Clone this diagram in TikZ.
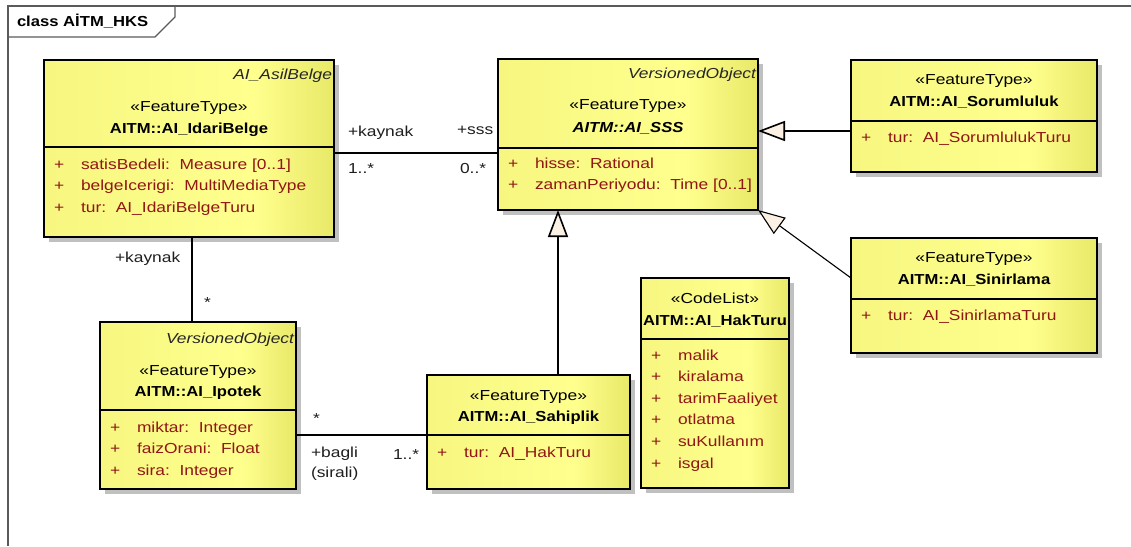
\documentclass[tikz,border=0pt]{standalone}
\usepackage{fontspec}
\setmainfont[FakeStretch=1.2,
  BoldFeatures={FakeStretch=1.147},
  BoldItalicFeatures={FakeStretch=1.147}]{Liberation Sans}
\usetikzlibrary{arrows.meta,backgrounds}

\definecolor{ylL}{RGB}{246,246,128}
\definecolor{ylM}{RGB}{255,255,142}
\definecolor{ylR}{RGB}{232,232,104}
\definecolor{shadowgray}{RGB}{192,192,192}
\definecolor{attrred}{RGB}{145,22,22}
\definecolor{tipfill}{RGB}{250,240,228}
\definecolor{framegray}{RGB}{90,90,90}
\definecolor{labelink}{RGB}{30,30,30}

% class body: pale at the left, brightest right of centre, darker at the right edge
\pgfdeclarehorizontalshading{umlyellow}{100bp}{color(0bp)=(ylL); color(25bp)=(ylL); color(61bp)=(ylM); color(75bp)=(ylR); color(100bp)=(ylR)}

\tikzset{
  every node/.style={font=\fontsize{14.5pt}{16pt}\selectfont, inner sep=0pt, outer sep=0pt},
  umlclass/.style={rectangle, draw=black, line width=2pt, shading=umlyellow},
  divider/.style={draw=black, line width=2pt},
  stereo/.style={anchor=base, text=black},
  cname/.style={anchor=base, text=black, font=\fontsize{14.5pt}{16pt}\selectfont\bfseries},
  cnameit/.style={anchor=base, text=black, font=\fontsize{14.5pt}{16pt}\selectfont\bfseries\itshape},
  parent/.style={anchor=base east, text=black!85, font=\fontsize{14.5pt}{16pt}\selectfont\itshape},
  vis/.style={anchor=base west, text=attrred},
  attr/.style={anchor=base west, text=attrred},
  rolelabel/.style={anchor=base west, text=labelink},
  assoc/.style={draw=black, line width=1.6pt},
  gen/.style={draw=black, line width=1.6pt, -{Triangle[length=27pt,width=20pt,fill=tipfill]}},
  frameline/.style={draw=framegray, line width=1.2pt},
}

% name, x1, y1, x2, y2, divider y
\newcommand\classbox[6]{%
  \node[umlclass, minimum width={#4-#2}, minimum height={#5-#3}] (#1) at ({(#2+#4)/2},{(#3+#5)/2}) {};
  \draw[divider] (#1.west |- 0,#6) -- (#1.east |- 0,#6);
}
% prefix, x of the visibility mark, first baseline, list of members
\newcommand\memberlist[4]{%
  \foreach \t [count=\i from 0] in {#4} {
    \node[vis] (#1-p\i) at (#2, {#3+\i*21.6}) {+};
    \node[attr] (#1-a\i) at ({#2+27}, {#3+\i*21.6}) {\t};
  }
}

\begin{document}
\begin{tikzpicture}[x=1pt,y=-1pt]
\useasboundingbox (0,0) rectangle (1131,546);

% diagram frame with its name tab
\draw[frameline] (8,546) -- (8,6) -- (1131,6);
\draw[frameline] (8,37) -- (155,37) -- (175,17) -- (175,6);
\node[anchor=base west, font=\fontsize{14.5pt}{16pt}\selectfont\bfseries] (title) at (17,27) {class AİTM\_HKS};

% AI_IdariBelge
\classbox{idari}{44}{60}{334}{237}{147}
\node[parent] (idari-par) at (332,79) {AI\_AsilBelge};
\node[stereo] (idari-st) at (189,111) {«FeatureType»};
\node[cname] (idari-nm) at (189,133) {AITM::AI\_IdariBelge};
\memberlist{idari}{54}{169}{satisBedeli:\ \ Measure [0..1], belgeIcerigi:\ \ MultiMediaType, tur:\ \ AI\_IdariBelgeTuru}

% AI_SSS
\classbox{sss}{498}{59}{758}{210}{148}
\node[parent] (sss-par) at (756,78) {VersionedObject};
\node[stereo] (sss-st) at (628,109) {«FeatureType»};
\node[cnameit] (sss-nm) at (628,132) {AITM::AI\_SSS};
\memberlist{sss}{508}{168}{hisse:\ \ Rational, zamanPeriyodu:\ \ Time [0..1]}

% AI_Sorumluluk
\classbox{soruml}{851}{60}{1097}{172}{121}
\node[stereo] (soruml-st) at (974,84) {«FeatureType»};
\node[cname] (soruml-nm) at (974,106) {AITM::AI\_Sorumluluk};
\memberlist{soruml}{861}{142}{tur:\ \ AI\_SorumlulukTuru}

% AI_Sinirlama
\classbox{sinir}{851}{238}{1097}{353}{299}
\node[stereo] (sinir-st) at (974,262) {«FeatureType»};
\node[cname] (sinir-nm) at (974,284) {AITM::AI\_Sinirlama};
\memberlist{sinir}{861}{320}{tur:\ \ AI\_SinirlamaTuru}

% AI_Ipotek
\classbox{ipotek}{100}{322}{296}{489}{410}
\node[parent] (ipotek-par) at (294,343) {VersionedObject};
\node[stereo] (ipotek-st) at (198,375) {«FeatureType»};
\node[cname] (ipotek-nm) at (198,396) {AITM::AI\_Ipotek};
\memberlist{ipotek}{110}{432}{miktar:\ \ Integer, faizOrani:\ \ Float, sira:\ \ Integer}

% AI_Sahiplik
\classbox{sahip}{427}{375}{630}{489}{435}
\node[stereo] (sahip-st) at (528.5,400) {«FeatureType»};
\node[cname] (sahip-nm) at (528.5,421) {AITM::AI\_Sahiplik};
\memberlist{sahip}{437}{457}{tur:\ \ AI\_HakTuru}

% AI_HakTuru code list
\classbox{hak}{641}{278}{789}{488}{339}
\node[stereo] (hak-st) at (715,303) {«CodeList»};
\node[cname] (hak-nm) at (715,325) {AITM::AI\_HakTuru};
\memberlist{hak}{651}{360}{malik, kiralama, tarimFaaliyet, otlatma, suKullanım, isgal}

% drop shadows behind the classes
\begin{scope}[on background layer]
  \foreach \n in {idari,sss,soruml,sinir,ipotek,sahip,hak}
    \fill[shadowgray] ([shift={(5,5)}]\n.south west) rectangle ([shift={(5,5)}]\n.north east);
\end{scope}

% associations
\draw[assoc] (idari.east |- 0,153) -- (sss.west |- 0,153);
\node[rolelabel] (r-kaynak1) at (348,136) {+kaynak};
\node[rolelabel] (m-kaynak1) at (348,173) {1..*};
\node[rolelabel] (r-sss) at (457,134) {+sss};
\node[rolelabel] (m-sss) at (460,173) {0..*};

\draw[assoc] (idari.south -| 192,0) -- (ipotek.north -| 192,0);
\node[rolelabel] (r-kaynak2) at (115,262) {+kaynak};
\node[rolelabel] (m-kaynak2) at (204,307) {*};

\draw[assoc] (ipotek.east |- 0,435) -- (sahip.west |- 0,435);
\node[rolelabel] (m-ipotek) at (313,423) {*};
\node[rolelabel] (r-bagli) at (311,457) {+bagli};
\node[rolelabel] (r-sirali) at (311,477) {(sirali)};
\node[rolelabel] (m-bagli) at (393,459) {1..*};

% generalizations
\draw[gen] (soruml.west |- 0,131) -- (sss.east |- 0,131);
\draw[gen] (sahip.north -| 558,0) -- (sss.south -| 558,0);
\draw[gen, line width=1.1pt] (sinir.west |- 0,278) -- (sss.south east);
\end{tikzpicture}
\end{document}
